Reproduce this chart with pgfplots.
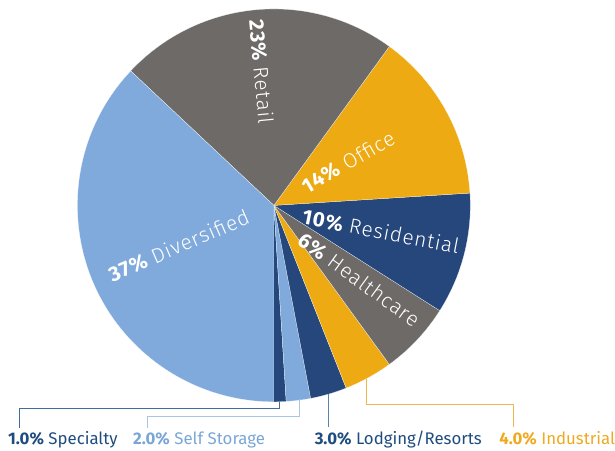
\documentclass[border=0pt]{standalone}
\usepackage{pgfplots}
\pgfplotsset{compat=1.18}
\usepackage{fontspec}
\setmainfont{Fira Sans}
\newfontfamily\lightfont{Fira Sans Light}[LetterSpace=4]
\usetikzlibrary{calc}
\definecolor{cgray}{HTML}{6D6A68}
\definecolor{cgold}{HTML}{EDAA12}
\definecolor{cnavy}{HTML}{25477C}
\definecolor{clblue}{HTML}{80AADB}
\definecolor{tnavy}{HTML}{1F4C7F}
\definecolor{tlblue}{HTML}{7AA6D6}
\definecolor{tgold}{HTML}{F0A91F}
\definecolor{lnavy}{HTML}{3F6E9C}
\definecolor{llblue}{HTML}{A8C5E6}
\definecolor{lgold}{HTML}{F1B64A}
% center (276,207) in pixel coords, radius 198
\newcommand{\slice}[3]{%
  \fill[overlay,#3,draw=white,line width=0.2pt] (axis cs:276,207) -- ++({-90+3.6*(#1)}:198bp)
    arc[start angle={-90+3.6*(#1)}, delta angle={3.6*(#2)}, radius=198bp] -- cycle;}
\newcommand{\plabel}[5]{%
  \node[text=white,rotate=#3,inner sep=0pt] at ($(axis cs:276,207)+(#1:#2bp)$)
    {\fontsize{21}{21}\selectfont{\addfontfeature{LetterSpace=4}\textbf{#4}} {\lightfont #5}};}
\newcommand{\blabel}[5]{%
  \node[anchor=base west, inner sep=0pt, text=#3] at (axis cs:#1,#2)
    {\fontsize{17}{17}\selectfont\textbf{#4} #5};}
\begin{document}
\begin{tikzpicture}
\begin{axis}[
  width=615bp, height=454bp, scale only axis,
  xmin=0, xmax=615, ymin=0, ymax=454, y dir=reverse,
  hide axis, clip=false]
\path (axis cs:0,0) -- (axis cs:615,454);
% slices: start (cumulative %), share (%), colour
\slice{0}{1}{cnavy}     % Specialty
\slice{1}{2}{clblue}    % Self Storage
\slice{3}{3}{cnavy}     % Lodging/Resorts
\slice{6}{4}{cgold}     % Industrial
\slice{10}{6}{cgray}    % Healthcare
\slice{16}{10}{cnavy}   % Residential
\slice{26}{14}{cgold}   % Office
\slice{40}{23}{cgray}   % Retail
\slice{63}{37}{clblue}  % Diversified
% labels inside
\plabel{95.4}{135}{-84.6}{23\%}{Retail}
\plabel{30.2}{87}{30}{14\%}{Office}
\plabel{-13.7}{111}{-11}{10\%}{Residential}
\plabel{-41}{114}{-36}{6\%}{Healthcare}
\plabel{203}{104}{23.4}{37\%}{Diversified}
% leader lines
\addplot[lnavy, line width=0.9pt] coordinates {(281.5,405) (281.5,412) (20,412) (20,431)};
\addplot[llblue, line width=0.9pt] coordinates {(301.5,402) (301.5,420) (149,420) (149,431)};
\addplot[lnavy!85!white, line width=0.9pt] coordinates {(330.5,397) (330.5,430)};
\addplot[lgold, line width=0.9pt] coordinates {(369,382) (369,408) (517,408) (517,430)};
% bottom labels
\blabel{8}{448}{tnavy}{1.0\%}{Specialty}
\blabel{134}{448}{tlblue}{2.0\%}{Self Storage}
\blabel{317}{448}{tnavy}{3.0\%}{Lodging/Resorts}
\blabel{503}{448}{tgold}{4.0\%}{Industrial}
\end{axis}
\end{tikzpicture}
\end{document}
